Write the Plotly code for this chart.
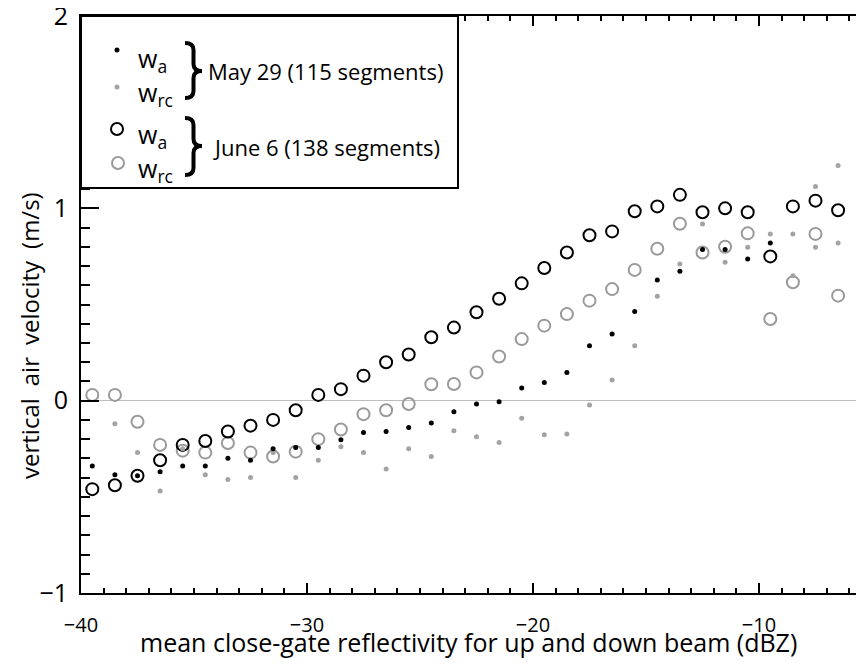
import plotly.graph_objects as go

# ---------------- data ----------------
x_bins = [-39.5, -38.5, -37.5, -36.5, -35.5, -34.5, -33.5, -32.5, -31.5, -30.5,
          -29.5, -28.5, -27.5, -26.5, -25.5, -24.5, -23.5, -22.5, -21.5, -20.5,
          -19.5, -18.5, -17.5, -16.5, -15.5, -14.5, -13.5, -12.5, -11.5, -10.5,
          -9.5, -8.5, -7.5, -6.5, -5.5]

june_wa = [-0.46, -0.44, -0.39, -0.31, -0.23, -0.21, -0.16, -0.13, -0.10, -0.05,
           0.03, 0.06, 0.13, 0.20, 0.24, 0.33, 0.38, 0.46, 0.53, 0.61,
           0.69, 0.77, 0.86, 0.88, 0.985, 1.01, 1.07, 0.98, 1.00, 0.98,
           0.75, 1.01, 1.04, 0.99, 0.885]

june_wrc = [0.03, 0.03, -0.11, -0.23, -0.26, -0.27, -0.22, -0.27, -0.29, -0.265,
            -0.20, -0.15, -0.07, -0.05, -0.017, 0.085, 0.087, 0.147, 0.23, 0.32,
            0.39, 0.45, 0.52, 0.58, 0.68, 0.79, 0.92, 0.77, 0.80, 0.87,
            0.425, 0.616, 0.867, 0.546, 1.08]

may_wa_x = x_bins[:31]
may_wa = [-0.34, -0.385, -0.39, -0.37, -0.34, -0.34, -0.30, -0.31, -0.25, -0.243,
          -0.243, -0.203, -0.165, -0.16, -0.139, -0.116, -0.057, -0.017, -0.005, 0.066,
          0.095, 0.147, 0.286, 0.347, 0.463, 0.628, 0.673, 0.786, 0.786, 0.737,
          0.82]

may_wrc_x = [-38.5, -37.5, -36.5, -35.5, -34.5, -33.5, -32.5, -31.5, -30.5, -29.5,
             -28.5, -27.5, -26.5, -25.5, -24.5, -23.5, -22.5, -21.5, -20.5, -19.5,
             -18.5, -17.5, -16.5, -15.5, -14.5, -13.5, -12.5, -11.5, -10.5, -9.5,
             -8.5, -7.5, -6.5, -5.5, -8.5, -7.5, -6.5, -5.5]
may_wrc = [-0.12, -0.27, -0.47, -0.25, -0.385, -0.41, -0.40, -0.27, -0.40, -0.31,
           -0.24, -0.27, -0.355, -0.25, -0.29, -0.156, -0.187, -0.217, -0.092, -0.177,
           -0.173, -0.023, 0.108, 0.286, 0.543, 0.711, 0.919, 0.72, 0.798, 0.867,
           0.867, 1.113, 1.223, 1.148, 0.65, 0.798, 0.82, 0.945]

x_tickvals = [-40, -30, -20, -10]
x_ticktext = ["\u221240", "\u221230", "\u221220", "\u221210"]
y_tickvals = [-1, 0, 1, 2]
y_ticktext = ["\u22121", "0", "1", "2"]

legend_may = "May 29 (115 segments)"
legend_june = "June 6 (138 segments)"

BLACK = "#000000"
GRAY_C = "#9a9a9a"
GRAY_D = "#a3a3a3"
FONT = "Open Sans"

# ---------------- figure ----------------
OFF = 8                      # page body margin
PL, PT, PR, PB = 81, 16, 856, 593   # plot area in page pixels
W_FIG, H_FIG = PR - OFF, 650
L, T = PL - OFF, PT - OFF
PW, PH = PR - PL, PB - PT
R, B = W_FIG - L - PW, H_FIG - T - PH
PX_PER_DBZ = 22.6


def px(X):
    return (X - PL) / PW


def py(Y):
    return (PB - Y) / PH


fig = go.Figure()

fig.add_trace(go.Scatter(x=x_bins, y=june_wrc, mode="markers", cliponaxis=False,
                         marker=dict(symbol="circle-open", size=12, color=GRAY_C,
                                     line=dict(width=2, color=GRAY_C))))
fig.add_trace(go.Scatter(x=x_bins, y=june_wa, mode="markers", cliponaxis=False,
                         marker=dict(symbol="circle-open", size=12, color=BLACK,
                                     line=dict(width=2, color=BLACK))))
fig.add_trace(go.Scatter(x=may_wrc_x, y=may_wrc, mode="markers", cliponaxis=False,
                         marker=dict(symbol="circle", size=5, color=GRAY_D)))
fig.add_trace(go.Scatter(x=may_wa_x, y=may_wa, mode="markers", cliponaxis=False,
                         marker=dict(symbol="circle", size=5, color=BLACK)))

x_range = [-40, -40 + PW / PX_PER_DBZ]

fig.update_xaxes(range=x_range, tickvals=x_tickvals, ticktext=x_ticktext,
                 ticks="inside", ticklen=10, tickwidth=1.5, tickcolor=BLACK,
                 showline=True, linecolor=BLACK, linewidth=2, mirror="ticks",
                 showgrid=False, zeroline=False,
                 tickfont=dict(family=FONT, size=20, color=BLACK),
                 ticklabelstandoff=13, ticklabeloverflow="allow",
                 minor=dict(dtick=1, ticks="inside", ticklen=5, tickwidth=1.5,
                            tickcolor=BLACK, showgrid=False))
fig.update_yaxes(range=[-1, 2], tickvals=y_tickvals, ticktext=y_ticktext,
                 ticks="inside", ticklen=18, tickwidth=1.5, tickcolor=BLACK,
                 showline=True, linecolor=BLACK, linewidth=2, mirror=False,
                 showgrid=False, zeroline=True, zerolinecolor="#bdbdbd",
                 zerolinewidth=1,
                 tickfont=dict(family=FONT, size=25, color=BLACK),
                 ticklabelstandoff=6, ticklabeloverflow="allow",
                 minor=dict(dtick=0.1, ticks="inside", ticklen=9, tickwidth=1.5,
                            tickcolor=BLACK, showgrid=False))

annotations = [
    dict(text="mean close-gate reflectivity for up and down beam (dBZ)",
         x=px(468), y=py(642), xref="paper", yref="paper", showarrow=False,
         xanchor="center", yanchor="middle",
         font=dict(family=FONT, size=25, color=BLACK)),
    dict(text="vertical\u2002air\u2002velocity\u2002(m/s)", textangle=-90,
         x=px(29), y=py(336), xref="paper", yref="paper", showarrow=False,
         xanchor="center", yanchor="middle",
         font=dict(family=FONT, size=24, color=BLACK)),
    # legend texts
    dict(text="w<sub>a</sub>", x=px(136), y=py(59), xref="paper", yref="paper",
         showarrow=False, xanchor="left", yanchor="middle",
         font=dict(family=FONT, size=25, color=BLACK)),
    dict(text="w<sub>rc</sub>", x=px(136), y=py(94), xref="paper", yref="paper",
         showarrow=False, xanchor="left", yanchor="middle",
         font=dict(family=FONT, size=25, color=BLACK)),
    dict(text="w<sub>a</sub>", x=px(136), y=py(135), xref="paper", yref="paper",
         showarrow=False, xanchor="left", yanchor="middle",
         font=dict(family=FONT, size=25, color=BLACK)),
    dict(text="w<sub>rc</sub>", x=px(136), y=py(169), xref="paper", yref="paper",
         showarrow=False, xanchor="left", yanchor="middle",
         font=dict(family=FONT, size=25, color=BLACK)),
    dict(text=legend_may, x=px(206), y=py(71), xref="paper", yref="paper",
         showarrow=False, xanchor="left", yanchor="middle",
         font=dict(family=FONT, size=22, color=BLACK)),
    dict(text=legend_june, x=px(211), y=py(147), xref="paper", yref="paper",
         showarrow=False, xanchor="left", yanchor="middle",
         font=dict(family=FONT, size=22, color=BLACK)),
]


def brace(x0, ytop, ybot, w, ytip):
    xm = x0 + w * 0.5
    xt = x0 + w
    r = 7
    pts = [
        f"M {px(x0)},{py(ytop)}",
        f"Q {px(xm)},{py(ytop)} {px(xm)},{py(ytop + r)}",
        f"L {px(xm)},{py(ytip - r)}",
        f"Q {px(xm)},{py(ytip)} {px(xt)},{py(ytip)}",
        f"Q {px(xm)},{py(ytip)} {px(xm)},{py(ytip + r)}",
        f"L {px(xm)},{py(ybot - r)}",
        f"Q {px(xm)},{py(ybot)} {px(x0)},{py(ybot)}",
    ]
    return " ".join(pts)


def circ(cx, cy, r, **kw):
    return dict(type="circle", xref="paper", yref="paper",
                x0=px(cx - r), x1=px(cx + r), y0=py(cy + r), y1=py(cy - r), **kw)


shapes = [
    # legend frame
    dict(type="rect", xref="paper", yref="paper",
         x0=px(81), x1=px(458), y0=py(188), y1=py(16),
         line=dict(color=BLACK, width=2), fillcolor="white", layer="above"),
    circ(117, 50, 2.5, line=dict(width=0), fillcolor=BLACK, layer="above"),
    circ(117, 87, 2.5, line=dict(width=0), fillcolor=GRAY_D, layer="above"),
    circ(117, 129, 6, line=dict(width=2, color=BLACK), layer="above"),
    circ(118, 163, 6, line=dict(width=2, color=GRAY_C), layer="above"),
    dict(type="path", xref="paper", yref="paper",
         path=brace(185, 43, 98, 17, 71), line=dict(color=BLACK, width=4),
         layer="above"),
    dict(type="path", xref="paper", yref="paper",
         path=brace(185, 118, 175, 17, 146), line=dict(color=BLACK, width=4),
         layer="above"),
]

fig.update_layout(width=W_FIG, height=H_FIG,
                  margin=dict(l=L, r=R, t=T, b=B, pad=0, autoexpand=False),
                  paper_bgcolor="white", plot_bgcolor="white",
                  showlegend=False, annotations=annotations, shapes=shapes,
                  font=dict(family=FONT, color=BLACK))

fig.write_html("out.html")
